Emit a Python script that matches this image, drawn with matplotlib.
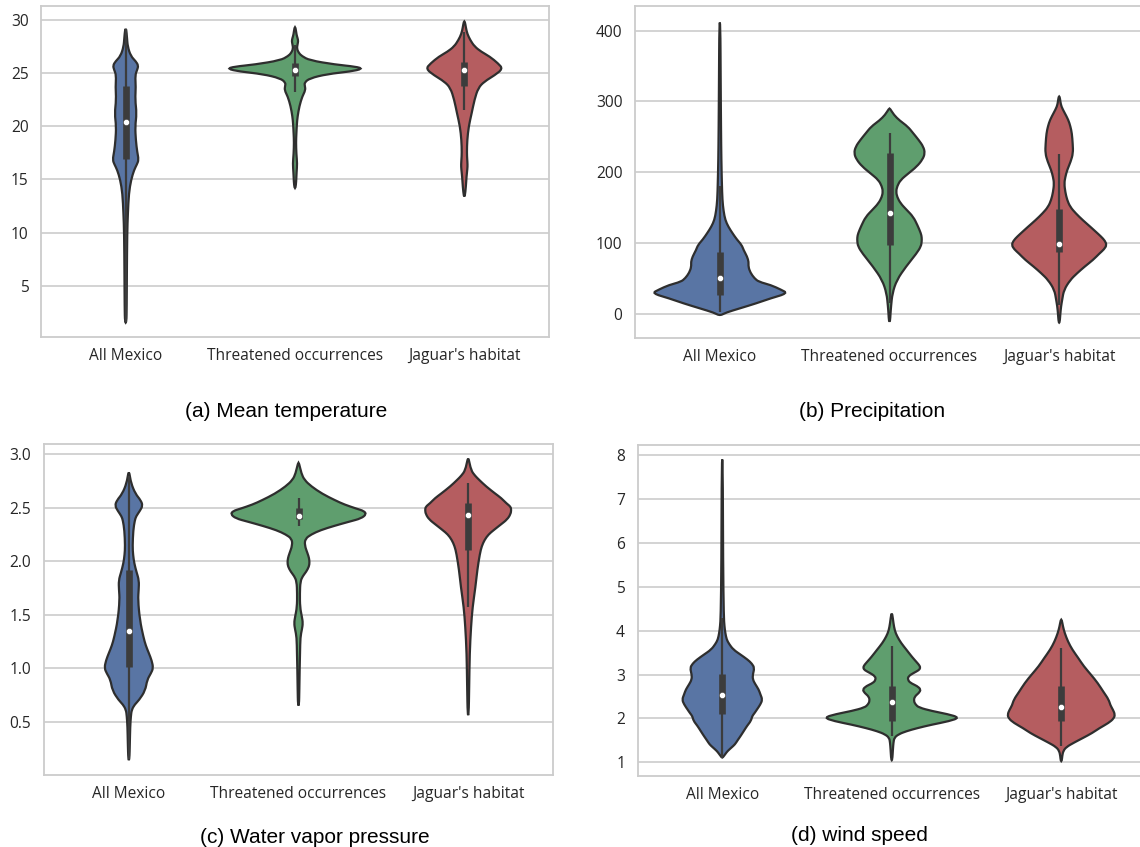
"""Violin plots of climate variables: all Mexico vs threatened occurrences vs jaguar habitat."""

import colorsys

from matplotlib import pyplot as plt
from matplotlib import colors as mcolors
from matplotlib.patches import PathPatch
from matplotlib.path import Path

# * -------------------------------------------------------------------------------- * #
# * DATA

GROUPS = ["All Mexico", "Threatened occurrences", "Jaguar's habitat"]

# (a) Mean temperature -- density profile: value, half-width
TEMP_MEXICO_Y = [1.55, 3, 6, 9.9, 11.8, 13.7, 14.96, 15.9, 16.4, 16.85, 17.6, 18.7, 20.0,
                 21.2, 22.5, 23.7, 24.8, 25.3, 25.7, 26.1, 26.6, 27.5, 28.3, 29.15]
TEMP_MEXICO_W = [0.004, 0.006, 0.007, 0.009, 0.013, 0.019, 0.032, 0.05, 0.066, 0.077, 0.068,
                 0.06, 0.056, 0.065, 0.056, 0.06, 0.056, 0.068, 0.075, 0.06, 0.03, 0.012,
                 0.008, 0.003]
TEMP_THREAT_Y = [14.2, 14.8, 15.6, 16.5, 17.4, 18.5, 19.3, 20.2, 20.9, 21.9, 22.8, 23.4, 23.8,
                 24.1, 24.5, 24.9, 25.15, 25.4, 25.6, 25.8, 26.2, 26.6, 26.9, 27.3, 27.7,
                 28.0, 28.3, 28.6, 29.3]
TEMP_THREAT_W = [0.003, 0.007, 0.009, 0.013, 0.008, 0.006, 0.008, 0.011, 0.015, 0.026, 0.043,
                 0.062, 0.058, 0.056, 0.086, 0.19, 0.33, 0.40, 0.36, 0.237, 0.086, 0.04,
                 0.022, 0.011, 0.015, 0.019, 0.015, 0.009, 0.003]
TEMP_JAGUAR_Y = [13.4, 14.3, 15.3, 16.0, 16.4, 16.9, 17.5, 18.7, 20.0, 21.2, 22.5, 23.6, 24.2,
                 24.8, 25.4, 25.9, 26.55, 27.0, 27.5, 28.1, 28.7, 29.3, 29.85]
TEMP_JAGUAR_W = [0.003, 0.009, 0.013, 0.018, 0.019, 0.017, 0.015, 0.017, 0.026, 0.043, 0.06,
                 0.082, 0.118, 0.18, 0.227, 0.2, 0.15, 0.1, 0.06, 0.035, 0.017, 0.009, 0.003]
TEMP_MEDIAN = [20.4, 25.3, 25.3]
TEMP_Q1 = [16.9, 24.7, 23.8]
TEMP_Q3 = [23.8, 25.9, 26.0]
TEMP_WHISK_LO = [1.6, 23.2, 21.5]
TEMP_WHISK_HI = [29.1, 27.6, 28.9]

# (b) Precipitation
PREC_MEXICO_Y = [-1.9, 1.4, 7.5, 14.6, 21.7, 28.8, 34, 40.5, 45, 50, 58, 66.5, 73, 80.6, 90,
                 97, 105, 113.6, 123, 132.5, 145, 160.8, 185, 217, 260, 330, 411.6]
PREC_MEXICO_W = [0.01, 0.035, 0.118, 0.215, 0.30, 0.40, 0.36, 0.30, 0.23, 0.204, 0.18, 0.168,
                 0.17, 0.161, 0.14, 0.129, 0.10, 0.075, 0.05, 0.032, 0.022, 0.015, 0.012,
                 0.009, 0.007, 0.005, 0.003]
PREC_THREAT_Y = [-11.3, 0, 9.9, 28.8, 47.6, 66.5, 85.3, 95, 101.8, 108, 113.6, 125, 137, 147,
                 156, 165, 172.6, 180, 189, 198, 208, 218, 226.8, 236, 245.6, 255, 264.5,
                 273, 281, 290]
PREC_THREAT_W = [0.003, 0.006, 0.009, 0.017, 0.043, 0.097, 0.16, 0.185, 0.19, 0.19, 0.185,
                 0.165, 0.14, 0.10, 0.065, 0.045, 0.039, 0.045, 0.065, 0.11, 0.161, 0.195,
                 0.209, 0.2, 0.172, 0.14, 0.108, 0.06, 0.026, 0.003]
PREC_JAGUAR_Y = [-12.7, 0, 9.9, 20, 33.5, 47.6, 57, 66.5, 76, 85, 91, 97, 103, 109, 116, 123,
                 132, 142, 151, 160.8, 172, 184, 193, 203, 215, 226.8, 240, 255, 265, 274,
                 284, 292.8, 300, 307]
PREC_JAGUAR_W = [0.003, 0.007, 0.011, 0.018, 0.028, 0.065, 0.105, 0.15, 0.2, 0.237, 0.265,
                 0.28, 0.27, 0.247, 0.215, 0.183, 0.14, 0.097, 0.065, 0.047, 0.036, 0.03,
                 0.036, 0.047, 0.068, 0.082, 0.08, 0.075, 0.066, 0.054, 0.032, 0.013, 0.007,
                 0.003]
PREC_MEDIAN = [50, 142, 98.5]
PREC_Q1 = [26.4, 97, 87.7]
PREC_Q3 = [87.7, 226.8, 147.6]
PREC_WHISK_LO = [2, 15, 12]
PREC_WHISK_HI = [180, 256, 226]

# (c) Water vapor pressure
VAP_MEXICO_Y = [0.14, 0.3, 0.45, 0.55, 0.61, 0.66, 0.70, 0.79, 0.89, 0.95, 1.0, 1.07, 1.14,
                1.21, 1.29, 1.45, 1.64, 1.73, 1.82, 1.9, 1.98, 2.06, 2.14, 2.29, 2.38, 2.42,
                2.47, 2.52, 2.57, 2.63, 2.73, 2.83]
VAP_MEXICO_W = [0.003, 0.006, 0.008, 0.012, 0.017, 0.035, 0.06, 0.097, 0.108, 0.13, 0.144,
                0.135, 0.118, 0.1, 0.086, 0.065, 0.054, 0.058, 0.06, 0.045, 0.032, 0.025,
                0.022, 0.026, 0.035, 0.043, 0.065, 0.082, 0.07, 0.039, 0.013, 0.003]
VAP_THREAT_Y = [0.65, 0.8, 1.0, 1.14, 1.29, 1.36, 1.42, 1.48, 1.57, 1.7, 1.81, 1.86, 1.90,
                1.95, 1.99, 2.03, 2.07, 2.15, 2.21, 2.25, 2.29, 2.33, 2.37, 2.40, 2.44, 2.47,
                2.49, 2.53, 2.57, 2.63, 2.70, 2.76, 2.82, 2.92]
VAP_THREAT_W = [0.003, 0.005, 0.007, 0.009, 0.011, 0.02, 0.026, 0.02, 0.009, 0.008, 0.011,
                0.025, 0.045, 0.062, 0.065, 0.062, 0.054, 0.036, 0.04, 0.075, 0.13, 0.21,
                0.30, 0.37, 0.40, 0.385, 0.344, 0.27, 0.215, 0.14, 0.075, 0.035, 0.017, 0.003]
VAP_JAGUAR_Y = [0.56, 0.82, 1.14, 1.39, 1.57, 1.76, 1.92, 2.07, 2.14, 2.20, 2.25, 2.29, 2.34,
                2.39, 2.44, 2.48, 2.51, 2.54, 2.59, 2.63, 2.70, 2.76, 2.80, 2.85, 2.96]
VAP_JAGUAR_W = [0.003, 0.006, 0.009, 0.017, 0.026, 0.043, 0.054, 0.069, 0.08, 0.097, 0.12,
                0.15, 0.19, 0.23, 0.25, 0.254, 0.25, 0.226, 0.195, 0.161, 0.105, 0.065, 0.04,
                0.017, 0.003]
VAP_MEDIAN = [1.35, 2.42, 2.43]
VAP_Q1 = [1.01, 2.39, 2.10]
VAP_Q3 = [1.92, 2.50, 2.54]
VAP_WHISK_LO = [0.15, 2.33, 1.57]
VAP_WHISK_HI = [2.8, 2.59, 2.73]

# (d) Wind speed
WIND_MEXICO_Y = [1.11, 1.2, 1.26, 1.34, 1.41, 1.5, 1.6, 1.72, 1.83, 1.95, 2.05, 2.12, 2.2,
                 2.32, 2.43, 2.55, 2.66, 2.78, 2.89, 3.0, 3.15, 3.25, 3.34, 3.45, 3.57, 3.7,
                 3.8, 3.95, 4.1, 4.33, 5.5, 7.9]
WIND_MEXICO_W = [0.003, 0.02, 0.032, 0.055, 0.075, 0.09, 0.108, 0.128, 0.146, 0.17, 0.176,
                 0.19, 0.204, 0.225, 0.237, 0.225, 0.215, 0.195, 0.18, 0.18, 0.19, 0.175,
                 0.15, 0.11, 0.065, 0.04, 0.026, 0.018, 0.013, 0.009, 0.005, 0.003]
WIND_THREAT_Y = [1.05, 1.3, 1.45, 1.56, 1.64, 1.71, 1.78, 1.86, 1.94, 2.02, 2.1, 2.17, 2.25,
                 2.32, 2.4, 2.5, 2.58, 2.66, 2.74, 2.81, 2.88, 2.96, 3.04, 3.1, 3.15, 3.2,
                 3.27, 3.4, 3.57, 3.72, 3.87, 4.0, 4.17, 4.39]
WIND_THREAT_W = [0.003, 0.007, 0.01, 0.015, 0.04, 0.086, 0.15, 0.237, 0.34, 0.40, 0.33,
                 0.237, 0.16, 0.14, 0.13, 0.135, 0.16, 0.172, 0.15, 0.11, 0.095, 0.097, 0.13,
                 0.16, 0.168, 0.165, 0.15, 0.12, 0.086, 0.055, 0.032, 0.018, 0.01, 0.003]
WIND_JAGUAR_Y = [1.03, 1.15, 1.26, 1.35, 1.45, 1.56, 1.67, 1.78, 1.9, 2.0, 2.09, 2.2, 2.3,
                 2.43, 2.6, 2.81, 3.0, 3.19, 3.38, 3.57, 3.75, 3.95, 4.1, 4.25]
WIND_JAGUAR_W = [0.003, 0.006, 0.012, 0.03, 0.075, 0.13, 0.183, 0.225, 0.28, 0.31, 0.317,
                 0.305, 0.29, 0.28, 0.25, 0.215, 0.175, 0.133, 0.1, 0.065, 0.04, 0.02, 0.01,
                 0.003]
WIND_MEDIAN = [2.54, 2.37, 2.27]
WIND_Q1 = [2.11, 1.95, 1.94]
WIND_Q3 = [3.02, 2.73, 2.73]
WIND_WHISK_LO = [1.1, 1.6, 1.37]
WIND_WHISK_HI = [4.3, 3.64, 3.6]

# * -------------------------------------------------------------------------------- * #
# * STYLE

DEEP = ["#4C72B0", "#55A868", "#C44E52"]
EDGE = "#2e2e2e"
BOX = "#3c3c3c"
LIGHT = "#cccccc"
LW = 1.6


def desaturate(color, prop=0.75):
    h, l, s = colorsys.rgb_to_hls(*mcolors.to_rgb(color))
    return colorsys.hls_to_rgb(h, l, s * prop)


PALETTE = [desaturate(c) for c in DEEP]

plt.rcParams["font.family"] = ["Open Sans", "DejaVu Sans"]


def violin_outline(pos, ys, ws):
    """Closed outline through the profile, corners rounded with quadratic curves."""
    pts = [(pos + w, y) for y, w in zip(ys, ws)]
    pts += [(pos - w, y) for y, w in zip(ys[::-1], ws[::-1])]
    mids = [
        ((x0 + x1) / 2, (y0 + y1) / 2)
        for (x0, y0), (x1, y1) in zip(pts, pts[1:] + pts[:1])
    ]
    verts = [mids[-1]]
    codes = [Path.MOVETO]
    for p, m in zip(pts, mids):
        verts += [p, m]
        codes += [Path.CURVE3, Path.CURVE3]
    verts.append(mids[-1])
    codes.append(Path.CLOSEPOLY)
    return Path(verts, codes)


def draw_panel(ax, profiles, median, q1, q3, lo, hi, ylim, yticks, fmt):
    for i, ((ys, ws), color) in enumerate(zip(profiles, PALETTE)):
        ax.add_patch(
            PathPatch(violin_outline(i, ys, ws), facecolor=color, edgecolor=EDGE,
                      linewidth=LW, zorder=2)
        )
        ax.plot([i, i], [lo[i], hi[i]], color=BOX, lw=LW, solid_capstyle="butt", zorder=3)
        ax.plot([i, i], [q1[i], q3[i]], color=BOX, lw=LW * 3, solid_capstyle="butt", zorder=3)
    ax.scatter(range(3), median, s=20, color="white", edgecolor=BOX, linewidth=0.4, zorder=4)

    ax.set_xlim(-0.5, 2.5)
    ax.set_ylim(*ylim)
    ax.set_xticks(range(3), GROUPS)
    ax.set_yticks(yticks, [fmt.format(t) for t in yticks])
    ax.set_axisbelow(True)
    ax.grid(axis="y", color=LIGHT, lw=1.2)
    ax.grid(axis="x", visible=False)
    for spine in ax.spines.values():
        spine.set_color(LIGHT)
        spine.set_linewidth(1.3)
    ax.tick_params(length=0, labelsize=11.2, labelcolor="#262626")
    ax.tick_params(axis="x", pad=8)
    ax.tick_params(axis="y", pad=9)


# * -------------------------------------------------------------------------------- * #
# * FIGURE

W, H = 1140, 847
fig = plt.figure(figsize=(W / 100, H / 100), dpi=100)


def add_axes(left, right, top, bottom):
    return fig.add_axes([left / W, 1 - bottom / H, (right - left) / W, (bottom - top) / H])


ax_a = add_axes(41, 549, 6, 337)
ax_b = add_axes(635, 1144, 6, 337.7)
ax_c = add_axes(44, 553, 444, 775)
ax_d = add_axes(637.5, 1146, 445, 776)

draw_panel(
    ax_a,
    [(TEMP_MEXICO_Y, TEMP_MEXICO_W), (TEMP_THREAT_Y, TEMP_THREAT_W), (TEMP_JAGUAR_Y, TEMP_JAGUAR_W)],
    TEMP_MEDIAN, TEMP_Q1, TEMP_Q3, TEMP_WHISK_LO, TEMP_WHISK_HI,
    (0.2, 31.3), [5, 10, 15, 20, 25, 30], "{:g}",
)
draw_panel(
    ax_b,
    [(PREC_MEXICO_Y, PREC_MEXICO_W), (PREC_THREAT_Y, PREC_THREAT_W), (PREC_JAGUAR_Y, PREC_JAGUAR_W)],
    PREC_MEDIAN, PREC_Q1, PREC_Q3, PREC_WHISK_LO, PREC_WHISK_HI,
    (-34, 435), [0, 100, 200, 300, 400], "{:g}",
)
draw_panel(
    ax_c,
    [(VAP_MEXICO_Y, VAP_MEXICO_W), (VAP_THREAT_Y, VAP_THREAT_W), (VAP_JAGUAR_Y, VAP_JAGUAR_W)],
    VAP_MEDIAN, VAP_Q1, VAP_Q3, VAP_WHISK_LO, VAP_WHISK_HI,
    (0.0, 3.096), [0.5, 1.0, 1.5, 2.0, 2.5, 3.0], "{:.1f}",
)
draw_panel(
    ax_d,
    [(WIND_MEXICO_Y, WIND_MEXICO_W), (WIND_THREAT_Y, WIND_THREAT_W), (WIND_JAGUAR_Y, WIND_JAGUAR_W)],
    WIND_MEDIAN, WIND_Q1, WIND_Q3, WIND_WHISK_LO, WIND_WHISK_HI,
    (0.69, 8.23), [1, 2, 3, 4, 5, 6, 7, 8], "{:g}",
)

# Captions under each panel
captions = [
    ("(a) Mean temperature", 286, 417),
    ("(b) Precipitation", 872, 417),
    ("(c) Water vapor pressure", 315, 843),
    ("(d) wind speed", 859, 841),
]
for text, x, y in captions:
    fig.text(x / W, 1 - y / H, text, ha="center", va="baseline", fontsize=15,
             family=["Liberation Sans", "DejaVu Sans"], color="black")

fig.savefig("out.png", dpi=100)
